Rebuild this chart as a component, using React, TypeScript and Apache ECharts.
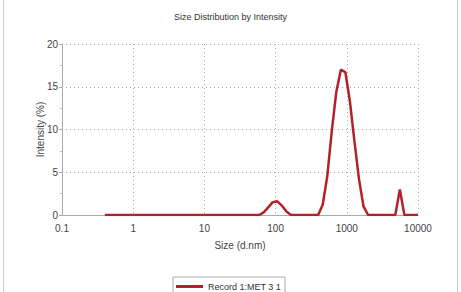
import React, { useEffect, useRef } from "react";
import * as echarts from "echarts";

const sizes = [
  0.4, 0.4632, 0.5365, 0.6213, 0.7195, 0.8332, 0.9649, 1.117, 1.294, 1.499,
  1.736, 2.01, 2.328, 2.696, 3.122, 3.615, 4.187, 4.849, 5.615, 6.503,
  7.531, 8.721, 10.1, 11.7, 13.54, 15.69, 18.17, 21.04, 24.36, 28.21,
  32.67, 37.84, 43.82, 50.75, 58.77, 68.06, 78.82, 91.28, 105.7, 122.4,
  141.8, 164.2, 190.1, 220.2, 255.0, 295.3, 342.0, 396.1, 458.7, 531.2,
  615.1, 712.4, 825.0, 955.4, 1106, 1281, 1484, 1718, 1990, 2305,
  2669, 3091, 3580, 4145, 4801, 5560, 6439, 7456, 8635, 10000,
];

const intensities = [
  0, 0, 0, 0, 0, 0, 0, 0, 0, 0,
  0, 0, 0, 0, 0, 0, 0, 0, 0, 0,
  0, 0, 0, 0, 0, 0, 0, 0, 0, 0,
  0, 0, 0, 0, 0, 0.3, 0.9, 1.5, 1.6, 1.1,
  0.4, 0, 0, 0, 0, 0, 0, 0, 1.2, 4.5,
  9.8, 14.4, 17.0, 16.7, 13.3, 8.6, 4.2, 1.0, 0, 0,
  0, 0, 0, 0, 0, 3.0, 0, 0, 0, 0,
];

const xTickLabels = ["0.1", "1", "10", "100", "1000", "10000"];
const yTickLabels = ["0", "5", "10", "15", "20"];

const seriesName = "Record 1:MET 3 1";
const title = "Size Distribution by Intensity";

export default function App() {
  const ref = useRef<HTMLDivElement>(null);

  useEffect(() => {
    if (!ref.current) return;
    const chart = echarts.init(ref.current, undefined, { renderer: "svg" });
    const font = "Liberation Sans, Arial, sans-serif";
    const data = sizes.map((s, i) => [s, intensities[i]]);
    chart.setOption({
      animation: false,
      backgroundColor: "#ffffff",
      title: {
        text: title,
        left: "center",
        top: 7,
        textStyle: { fontSize: 9, fontWeight: "normal", color: "#333", fontFamily: font },
      },
      grid: { left: 62, right: 43, top: 44, bottom: 77 },
      xAxis: {
        type: "log",
        logBase: 10,
        min: 0.1,
        max: 10000,
        name: "Size (d.nm)",
        nameLocation: "middle",
        nameGap: 25,
        nameMoveOverlap: false,
        nameTextStyle: { fontSize: 10, color: "#444", fontFamily: font },
        axisLine: { show: true, onZero: false, lineStyle: { color: "#aaa", width: 1 } },
        axisTick: { show: false },
        axisLabel: {
          fontSize: 10,
          color: "#444",
          fontFamily: font,
          margin: 8,
          formatter: (v: number) => {
            const idx = Math.round(Math.log10(v)) + 1;
            return xTickLabels[idx] ?? String(v);
          },
        },
        splitLine: { show: true, lineStyle: { color: "#aaa", type: [1, 3], width: 1 } },
      },
      yAxis: {
        type: "value",
        min: 0,
        max: 20,
        interval: 5,
        name: "Intensity (%)",
        nameLocation: "middle",
        nameGap: 17,
        nameMoveOverlap: false,
        nameTextStyle: { fontSize: 10, color: "#444", fontFamily: font },
        axisLine: { show: true, lineStyle: { color: "#aaa", width: 1 } },
        axisTick: { show: true, length: 3, lineStyle: { color: "#aaa" } },
        minorTick: { show: true, splitNumber: 2, length: 2, lineStyle: { color: "#bbb" } },
        axisLabel: {
          fontSize: 10,
          color: "#444",
          fontFamily: font,
          margin: 4,
          formatter: (v: number) => yTickLabels[Math.round(v / 5)] ?? String(v),
        },
        splitLine: { show: true, lineStyle: { color: "#aaa", type: [1, 3], width: 1 } },
      },
      legend: {
        data: [seriesName],
        left: 173,
        top: 277,
        orient: "horizontal",
        borderColor: "#aaa",
        borderWidth: 1,
        padding: [5, 4, 6, 3],
        icon: "rect",
        itemWidth: 27,
        itemHeight: 3,
        itemGap: 6,
        textStyle: { fontSize: 9, color: "#333", fontFamily: font },
      },
      graphic: [
        { type: "line", shape: { x1: 3.5, y1: 0, x2: 3.5, y2: 292 }, style: { stroke: "#ccc", lineWidth: 1 } },
        { type: "line", shape: { x1: 457.5, y1: 0, x2: 457.5, y2: 292 }, style: { stroke: "#ccc", lineWidth: 1 } },
      ],
      series: [
        {
          name: seriesName,
          type: "line",
          data,
          symbol: "none",
          smooth: false,
          lineStyle: { color: "#b3222a", width: 2.5 },
          itemStyle: { color: "#b3222a" },
        },
      ],
    });
    return () => chart.dispose();
  }, []);

  return (
    <div
      ref={ref}
      style={{ position: "fixed", left: 0, top: 0, width: 461, height: 292, background: "#fff" }}
    />
  );
}
